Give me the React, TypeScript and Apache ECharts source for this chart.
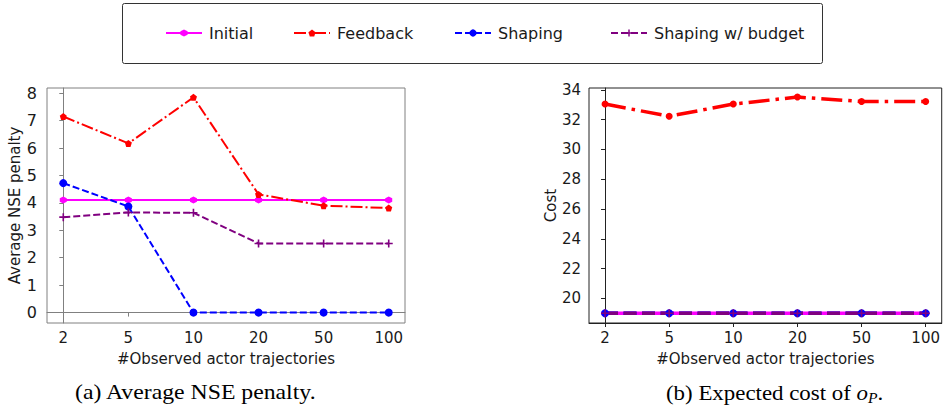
import React, { useEffect, useRef } from "react";
import * as echarts from "echarts";

const categories = ["2", "5", "10", "20", "50", "100"];
const seriesNames = ["Initial", "Feedback", "Shaping", "Shaping w/ budget"];

const penaltyInitial = [4.11, 4.11, 4.11, 4.11, 4.11, 4.11];
const penaltyFeedback = [7.15, 6.17, 7.85, 4.31, 3.9, 3.81];
const penaltyShaping = [4.72, 3.87, 0, 0, 0, 0];
const penaltyBudget = [3.48, 3.65, 3.64, 2.52, 2.52, 2.52];

const costInitial = [19, 19, 19, 19, 19, 19];
const costFeedback = [33.05, 32.23, 33.05, 33.52, 33.22, 33.22];
const costShaping = [19, 19, 19, 19, 19, 19];
const costBudget = [19, 19, 19, 19, 19, 19];

const penaltyTicks = [0, 1, 2, 3, 4, 5, 6, 7, 8];
const costTicks = [20, 22, 24, 26, 28, 30, 32, 34];

const colors = ["#ff00ff", "#ff0000", "#0000ff", "#800080"];

const HEX = "path://M0,-1L0.866,-0.5L0.866,0.5L0,1L-0.866,0.5L-0.866,-0.5Z";
const PENT = "path://M0,-1L0.951,-0.309L0.588,0.809L-0.588,0.809L-0.951,-0.309Z";
const PLUS = "path://M4,0h2v4h4v2h-4v4h-2v-4h-4v-2h4z";

const FONT = "DejaVu Sans";

function toPts(vals: number[]) {
  return vals.map((v, i) => [i, v]);
}

export default function App() {
  const ref = useRef<HTMLDivElement>(null);
  useEffect(() => {
    if (!ref.current) return;
    const chart = echarts.init(ref.current, undefined, { renderer: "svg" });
    const catIdx = categories.map((_, i) => i);

    const xAxisBase = (gridIndex: number, color: string) => ({
      type: "value",
      gridIndex,
      min: -0.25,
      max: 5.25,
      name: "#Observed actor trajectories",
      nameLocation: "middle",
      nameGap: 28,
      nameTextStyle: { fontFamily: FONT, fontSize: 15, color: "#1a1a1a" },
      axisLine: { show: true, lineStyle: { color, width: 1 } },
      axisTick: { show: true, inside: false, length: 4, customValues: catIdx, lineStyle: { color } },
      axisLabel: {
        customValues: catIdx,
        formatter: (v: number) => categories[Math.round(v)] ?? "",
        fontFamily: FONT,
        fontSize: 15,
        color: "#1a1a1a",
        margin: 7,
      },
      splitLine: { show: false },
    });

    const lineSeries = (
      name: string,
      vals: number[],
      idx: number,
      colorIdx: number,
      width: number,
      type: any,
      symbol: string,
      symbolSize: number
    ) => ({
      type: "line",
      name,
      xAxisIndex: idx,
      yAxisIndex: idx,
      data: toPts(vals),
      symbol,
      symbolSize,
      showSymbol: true,
      itemStyle: { color: colors[colorIdx] },
      lineStyle: { color: colors[colorIdx], width, type },
      emphasis: { disabled: true },
    });

    const legendLefts = [160, 288, 449, 605];
    const legends = seriesNames.map((n, i) => ({
      data: [n],
      left: legendLefts[i],
      top: 20,
      itemWidth: 36,
      itemHeight: 9,
      textStyle: { fontFamily: FONT, fontSize: 16, color: "#1a1a1a", padding: [0, 0, 0, 2] },
      selectedMode: false,
    }));

    chart.setOption({
      animation: false,
      backgroundColor: "#ffffff",
      legend: legends,
      grid: [
        { left: 47, top: 88, width: 358, height: 235, show: true, borderColor: "#808080", borderWidth: 1 },
        { left: 589, top: 88, width: 358, height: 235, show: true, borderColor: "#222222", borderWidth: 1 },
      ],
      xAxis: [xAxisBase(0, "#808080"), xAxisBase(1, "#222222")],
      yAxis: [
        {
          type: "value",
          gridIndex: 0,
          min: -0.38,
          max: 8.19,
          name: "Average NSE penalty",
          nameLocation: "middle",
          nameGap: 25,
          nameTextStyle: { fontFamily: FONT, fontSize: 15, color: "#1a1a1a" },
          axisLine: { show: true, lineStyle: { color: "#808080" } },
          axisTick: { show: true, length: 4, customValues: penaltyTicks, lineStyle: { color: "#808080" } },
          axisLabel: { customValues: penaltyTicks, fontFamily: FONT, fontSize: 16, color: "#1a1a1a", margin: 10 },
          splitLine: { show: false },
        },
        {
          type: "value",
          gridIndex: 1,
          min: 18.34,
          max: 34.13,
          name: "Cost",
          nameLocation: "middle",
          nameGap: 30,
          nameTextStyle: { fontFamily: FONT, fontSize: 15, color: "#1a1a1a" },
          axisLine: { show: true, lineStyle: { color: "#222222" } },
          axisTick: { show: true, length: 4, customValues: costTicks, lineStyle: { color: "#222222" } },
          axisLabel: { customValues: costTicks, fontFamily: FONT, fontSize: 15, color: "#1a1a1a", margin: 8 },
          splitLine: { show: false },
        },
      ],
      series: [
        lineSeries("Initial", penaltyInitial, 0, 0, 2, "solid", HEX, 7),
        lineSeries("Feedback", penaltyFeedback, 0, 1, 2, [12, 3, 2, 3], PENT, 7),
        lineSeries("Shaping", penaltyShaping, 0, 2, 2, [7, 3], "circle", 8),
        lineSeries("Shaping w/ budget", penaltyBudget, 0, 3, 2, [7, 3], PLUS, 8),
        lineSeries("Initial", costInitial, 1, 0, 3.5, "solid", HEX, 7),
        lineSeries("Feedback", costFeedback, 1, 1, 3.5, [21, 6, 3.5, 6], "circle", 7),
        lineSeries("Shaping", costShaping, 1, 2, 3.5, [13, 5.5], "circle", 8),
        lineSeries("Shaping w/ budget", costBudget, 1, 3, 3.5, [13, 5.5], PLUS, 8),
      ],
      graphic: [
        {
          type: "rect",
          shape: { x: 122.5, y: 3.5, width: 700, height: 60, r: 2 },
          style: { fill: "none", stroke: "#333333", lineWidth: 1 },
          z: 0,
        },
        {
          type: "text",
          x: 75,
          y: 381,
          scaleX: 1.08,
          style: {
            text: "(a) Average NSE penalty.",
            fontFamily: "Liberation Serif",
            fontSize: 22,
            fill: "#000000",
          },
        },
        {
          type: "text",
          x: 666,
          y: 381,
          scaleX: 1.04,
          style: {
            text: "{a|(b) Expected cost of }{i|o}{s|P}{a|.}",
            rich: {
              a: { fontFamily: "Liberation Serif", fontSize: 22, fill: "#000", lineHeight: 24 },
              i: { fontFamily: "Liberation Serif", fontSize: 22, fontStyle: "italic", fill: "#000", lineHeight: 24 },
              s: {
                fontFamily: "Liberation Serif",
                fontSize: 15,
                fontStyle: "italic",
                fill: "#000",
                lineHeight: 10,
                verticalAlign: "bottom",
              },
            },
          },
        },
      ],
    });
    return () => chart.dispose();
  }, []);
  return (
    <div
      ref={ref}
      style={{ position: "absolute", left: 0, top: 0, width: 943, height: 415 }}
    />
  );
}
